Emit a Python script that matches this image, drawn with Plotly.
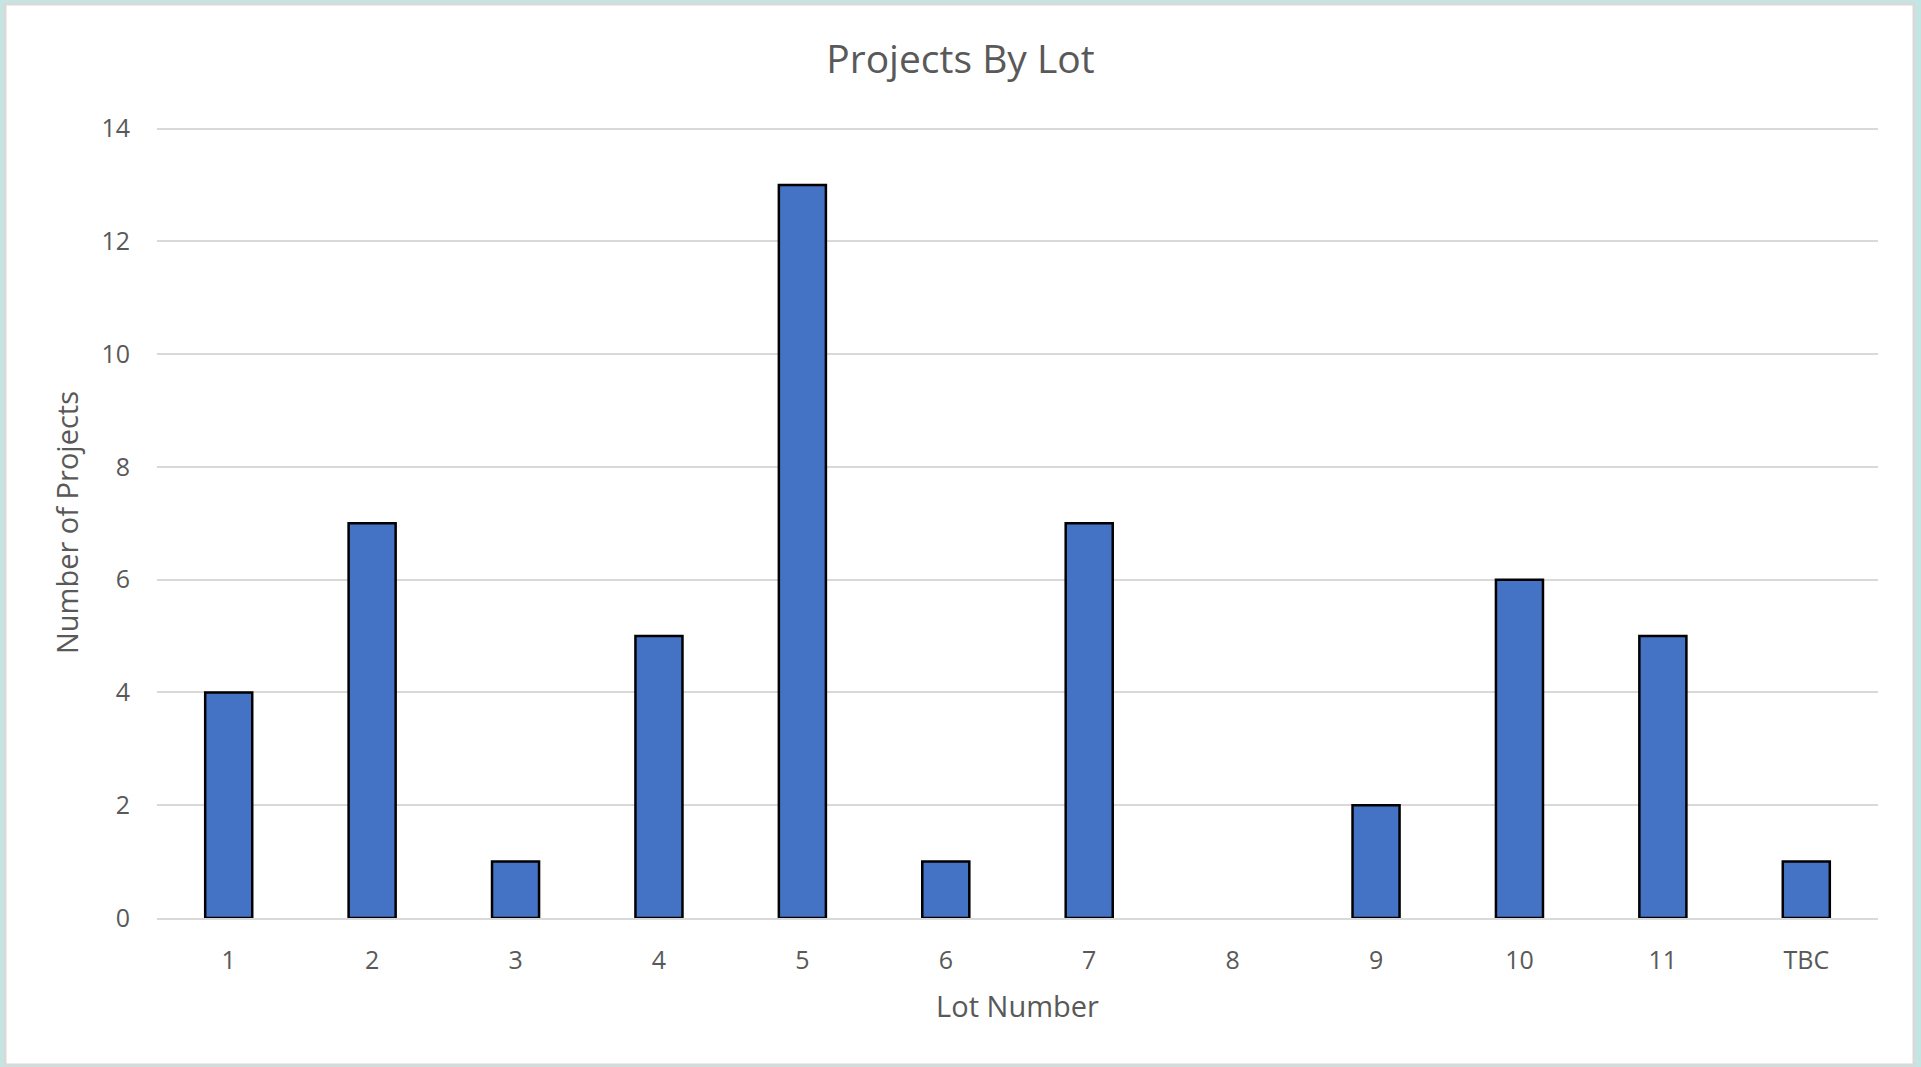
import plotly.graph_objects as go

lots = ["1", "2", "3", "4", "5", "6", "7", "8", "9", "10", "11", "TBC"]
projects = [4, 7, 1, 5, 13, 1, 7, 0, 2, 6, 5, 1]
y_ticks = [0, 2, 4, 6, 8, 10, 12, 14]

W, H = 1921, 1067
L, R, T, B = 157, 43, 127, 149
pw, ph = W - L - R, H - T - B

def px_x(p):
    return (p - L) / pw

def px_y(p):
    return (H - B - p) / ph

FONT = "Open Sans"
TXT = "#595959"

fig = go.Figure(go.Bar(
    x=lots, y=projects,
    marker=dict(color="#4472c4",
                line=dict(color="#000000", width=[2.5 if v > 0 else 0 for v in projects])),
))

fig.update_layout(
    width=W, height=H,
    margin=dict(l=L, r=R, t=T, b=B, autoexpand=False),
    paper_bgcolor="#c3e6e3",
    plot_bgcolor="rgba(0,0,0,0)",
    bargap=0.672,
    showlegend=False,
    font=dict(family=FONT, color=TXT, size=22),
    title=dict(text="Projects By Lot", x=0.5, xref="container", xanchor="center",
               y=1 - 59 / H, yanchor="middle",
               font=dict(family=FONT, size=39, color=TXT)),
    shapes=[dict(type="rect", xref="paper", yref="paper", layer="below",
                 x0=px_x(5), x1=px_x(1914), y0=px_y(1065), y1=px_y(4),
                 fillcolor="#ffffff", line=dict(color="#d9d9d9", width=3))],
)

fig.update_xaxes(
    type="category", showgrid=False, showline=True, linecolor="#d9d9d9", linewidth=2,
    ticks="", ticklabelstandoff=19, tickfont=dict(size=25, color=TXT),
    title=dict(text="Lot Number", font=dict(size=29, color=TXT), standoff=22),
    fixedrange=True,
)
fig.update_yaxes(
    range=[0, 14.03], tickvals=y_ticks, showgrid=True, gridcolor="#d9d9d9", gridwidth=2,
    zeroline=False, showline=False, ticks="", ticklabelstandoff=26,
    tickfont=dict(size=25, color=TXT),
    title=dict(text="Number of Projects", font=dict(size=29, color=TXT), standoff=14),
    fixedrange=True,
)

fig.write_html("out.html", config={"displayModeBar": False},
               post_script="document.body.style.margin='0px';document.body.style.overflow='hidden';")
